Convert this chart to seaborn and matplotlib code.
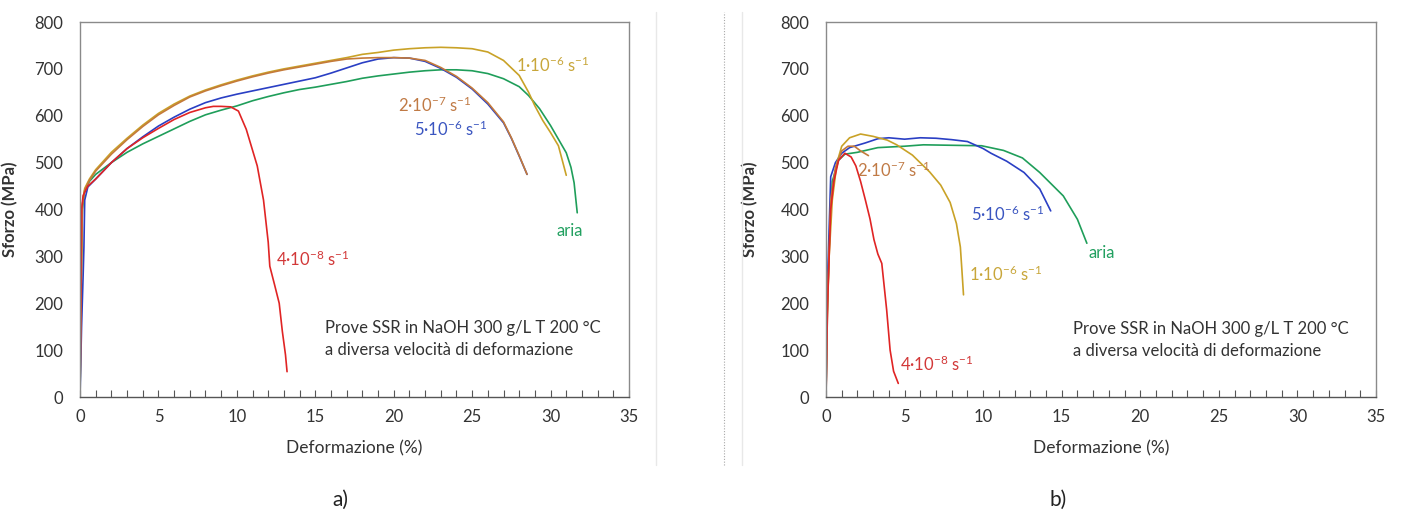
import matplotlib
matplotlib.use("Agg")
import matplotlib.pyplot as plt
from matplotlib.lines import Line2D
from matplotlib.ticker import MultipleLocator
import seaborn as sns

sns.set_style("white")
plt.rcParams['font.family'] = ['Lato', 'DejaVu Sans']
plt.rcParams['mathtext.fontset'] = 'custom'
plt.rcParams['mathtext.rm'] = 'Lato'
plt.rcParams['mathtext.it'] = 'Lato:italic'
plt.rcParams['mathtext.bf'] = 'Lato:bold'

# ---- panel a) : strain (%) / stress (MPa) ----
aria_a_x = [0, 0.05, 0.1, 0.15, 0.3, 0.6, 1, 2, 3, 4, 5, 6, 7, 8, 9, 10, 11, 12, 13, 14, 15, 16, 17, 18, 19,
            20, 21, 22, 23, 24, 25, 26, 27, 28, 28.6, 29.3, 30, 30.5, 31, 31.3, 31.5, 31.7]
aria_a_y = [0, 150, 300, 400, 440, 460, 475, 500, 522, 540, 556, 572, 588, 602, 612, 621, 632, 641, 649, 656,
            661, 667, 673, 680, 685, 689, 693, 696, 698, 698, 696, 690, 679, 662, 643, 615, 579, 550, 521, 490, 457, 393]

r1e6_a_x = [0, 0.05, 0.1, 0.15, 0.3, 0.6, 1, 2, 3, 4, 5, 6, 7, 8, 9, 10, 11, 12, 13, 14, 15, 16, 17, 18, 19,
            20, 21, 22, 23, 24, 25, 26, 27, 28, 28.6, 29, 29.5, 30, 30.5, 31]
r1e6_a_y = [0, 150, 300, 410, 445, 465, 485, 522, 552, 580, 605, 625, 642, 655, 666, 676, 685, 693, 700, 706,
            712, 718, 724, 731, 735, 740, 743, 745, 746, 745, 743, 736, 718, 686, 650, 621, 590, 564, 536, 473]

r2e7_a_x = [0, 0.05, 0.1, 0.15, 0.3, 0.6, 1, 2, 3, 4, 5, 6, 7, 8, 9, 10, 11, 12, 13, 14, 15, 16, 17, 18, 19,
            20, 21, 22, 23, 24, 25, 26, 27, 27.5, 28, 28.5]
r2e7_a_y = [0, 150, 300, 410, 442, 462, 482, 518, 549, 577, 602, 622, 640, 653, 664, 674, 683, 691, 698, 704,
            710, 716, 721, 723, 724, 724, 723, 718, 703, 684, 659, 628, 587, 553, 515, 475]

r5e6_a_x = [0, 0.1, 0.2, 0.25, 0.3, 0.5, 1, 2, 3, 4, 5, 6, 7, 8, 9, 10, 11, 12, 13, 14, 15, 16, 17, 18, 19,
            20, 21, 22, 23, 24, 25, 26, 27, 27.5, 28, 28.5]
r5e6_a_y = [0, 150, 260, 320, 420, 448, 465, 500, 530, 555, 578, 597, 614, 628, 638, 646, 653, 660, 667, 674,
            681, 691, 702, 713, 721, 724, 723, 716, 701, 682, 657, 625, 585, 552, 514, 475]

r4e8_a_x = [0, 0.05, 0.1, 0.2, 0.5, 1, 2, 3, 4, 5, 6, 7, 8, 8.5, 9, 9.6, 10.1, 10.6, 11.3, 11.7, 12.0, 12.1,
            12.4, 12.7, 12.9, 13.1, 13.2]
r4e8_a_y = [0, 200, 400, 430, 450, 465, 500, 530, 553, 573, 592, 607, 617, 620, 620, 619, 610, 571, 493, 420,
            330, 279, 240, 200, 140, 90, 54]

# ---- panel b) ----
aria_b_x = [0, 0.05, 0.2, 0.4, 0.8, 1.2, 2, 3.3, 5, 6.2, 8, 9.9, 11.3, 12.5, 13.6, 15.1, 16.0, 16.6]
aria_b_y = [0, 150, 320, 460, 505, 518, 522, 532, 535, 538, 537, 536, 526, 510, 479, 429, 379, 328]

r1e6_b_x = [0, 0.05, 0.2, 0.4, 0.7, 1.0, 1.5, 2.2, 3, 3.9, 4.5, 5.5, 6.6, 7.3, 7.9, 8.3, 8.55, 8.65, 8.75]
r1e6_b_y = [0, 140, 300, 420, 500, 535, 553, 561, 556, 548, 538, 516, 480, 452, 415, 370, 320, 270, 218]

r2e7_b_x = [0, 0.1, 0.3, 0.6, 1.0, 1.4, 1.8, 2.2, 2.7]
r2e7_b_y = [0, 200, 420, 490, 525, 535, 535, 525, 515]

r5e6_b_x = [0, 0.1, 0.3, 0.6, 1.0, 1.5, 2.5, 3.3, 4, 5, 6, 7, 8, 9, 10, 10.5, 11.5, 12.6, 13.6, 14.3]
r5e6_b_y = [0, 250, 470, 500, 520, 532, 542, 551, 553, 550, 553, 552, 549, 545, 530, 520, 503, 479, 444, 397]

r4e8_b_x = [0, 0.1, 0.3, 0.5, 0.8, 1.2, 1.6, 1.9, 2.2, 2.5, 2.8, 3.05, 3.3, 3.55, 3.86, 4.08, 4.3, 4.6]
r4e8_b_y = [0, 200, 400, 460, 505, 520, 512, 493, 460, 421, 380, 336, 305, 285, 186, 100, 55, 29]

x_ticks = [0, 5, 10, 15, 20, 25, 30, 35]
y_ticks = [0, 100, 200, 300, 400, 500, 600, 700, 800]

lab_1e6 = "1·10$^{\\mathregular{-6}}$ s$^{\\mathregular{-1}}$"
lab_2e7 = "2·10$^{\\mathregular{-7}}$ s$^{\\mathregular{-1}}$"
lab_5e6 = "5·10$^{\\mathregular{-6}}$ s$^{\\mathregular{-1}}$"
lab_4e8 = "4·10$^{\\mathregular{-8}}$ s$^{\\mathregular{-1}}$"
note = "Prove SSR in NaOH 300 g/L T 200 °C\na diversa velocità di deformazione"

c_green, c_gold, c_orange, c_blue, c_red = '#1f9e5a', '#c9a227', '#c47a3a', '#2a3fc4', '#e02424'


def style_axes(ax):
    ax.set_xlim(0, 35)
    ax.set_ylim(0, 800)
    ax.set_xticks(x_ticks)
    ax.set_yticks(y_ticks)
    ax.xaxis.set_minor_locator(MultipleLocator(1))
    ax.tick_params(axis='x', which='both', bottom=True, direction='in', length=5, width=0.8,
                   color='#555555', labelsize=12, labelcolor='#333333', pad=9)
    ax.tick_params(axis='y', left=False, length=0, labelsize=12, labelcolor='#333333', pad=12)
    for s in ax.spines.values():
        s.set_color('#8a8a8a')
        s.set_linewidth(1.0)
    ax.spines['bottom'].set_color('#555555')
    ax.set_xlabel('Deformazione (%)', fontsize=12.5, color='#333333')
    ax.set_ylabel('Sforzo (MPa)', fontsize=12, fontweight='bold', color='#333333')
    ax.xaxis.set_label_coords(0.5, -0.115)


def curve(ax, x, y, c):
    sns.lineplot(x=x, y=y, ax=ax, color=c, linewidth=1.2, sort=False, estimator=None)


fig = plt.figure(figsize=(14.03, 5.14), dpi=100)
ax_a = fig.add_axes([80 / 1403, 117 / 514, 549 / 1403, 375 / 514])
ax_b = fig.add_axes([826 / 1403, 117 / 514, 550 / 1403, 375 / 514])

curve(ax_a, aria_a_x, aria_a_y, c_green)
curve(ax_a, r1e6_a_x, r1e6_a_y, c_gold)
curve(ax_a, r5e6_a_x, r5e6_a_y, c_blue)
curve(ax_a, r2e7_a_x, r2e7_a_y, c_orange)
curve(ax_a, r4e8_a_x, r4e8_a_y, c_red)

curve(ax_b, aria_b_x, aria_b_y, c_green)
curve(ax_b, r5e6_b_x, r5e6_b_y, c_blue)
curve(ax_b, r1e6_b_x, r1e6_b_y, c_gold)
curve(ax_b, r2e7_b_x, r2e7_b_y, c_orange)
curve(ax_b, r4e8_b_x, r4e8_b_y, c_red)

for ax in (ax_a, ax_b):
    style_axes(ax)
ax_a.yaxis.set_label_coords(-0.113, 0.5)
ax_b.yaxis.set_label_coords(-0.123, 0.5)

fs = 12
ax_a.text(27.8, 707, lab_1e6, color='#c8a63a', fontsize=fs, va='center')
ax_a.text(20.3, 622, lab_2e7, color='#c07a45', fontsize=fs, va='center')
ax_a.text(21.3, 571, lab_5e6, color='#3a55c0', fontsize=fs, va='center')
ax_a.text(30.4, 355, 'aria', color='#22a060', fontsize=fs, va='center')
ax_a.text(12.5, 293, lab_4e8, color='#d23838', fontsize=fs, va='center')
ax_a.text(15.6, 124, note, color='#333333', fontsize=12, va='center', linespacing=1.45)

ax_b.text(2.0, 483, lab_2e7, color='#c07a45', fontsize=fs, va='center')
ax_b.text(9.2, 389, lab_5e6, color='#3a55c0', fontsize=fs, va='center')
ax_b.text(16.7, 308, 'aria', color='#22a060', fontsize=fs, va='center')
ax_b.text(9.1, 262, lab_1e6, color='#c8a63a', fontsize=fs, va='center')
ax_b.text(4.7, 69, lab_4e8, color='#d23838', fontsize=fs, va='center')
ax_b.text(15.7, 121, note, color='#333333', fontsize=12, va='center', linespacing=1.45)

# panel borders / separator
y0, y1 = 1 - 465 / 514, 1 - 12 / 514
fig.add_artist(Line2D([656 / 1403] * 2, [y0, y1], transform=fig.transFigure, color='#e8e8e8', lw=1))
fig.add_artist(Line2D([742 / 1403] * 2, [y0, y1], transform=fig.transFigure, color='#e8e8e8', lw=1))
fig.add_artist(Line2D([724 / 1403] * 2, [y0, y1], transform=fig.transFigure, color='#a8a8a8', lw=0.8,
                      linestyle=(0, (1, 1.5))))

fig.text(340 / 1403, 1 - 500 / 514, 'a)', fontsize=15, color='#222222', ha='center', va='center')
fig.text(1058 / 1403, 1 - 500 / 514, 'b)', fontsize=15, color='#222222', ha='center', va='center')

fig.savefig('out.png', dpi=100)
